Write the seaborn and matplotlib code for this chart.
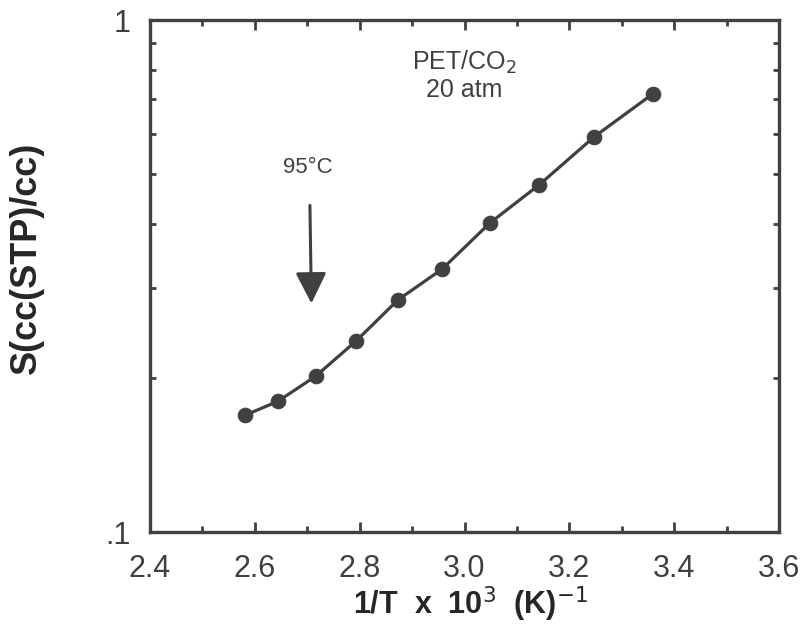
import matplotlib
matplotlib.use("Agg")
import matplotlib.pyplot as plt
from matplotlib.ticker import FixedLocator, FixedFormatter, LogLocator, MultipleLocator, NullFormatter
import numpy as np
import pandas as pd
import seaborn as sns

# CO2 solubility in PET at 20 atm versus reciprocal temperature
inv_T = [2.581, 2.644, 2.716, 2.793, 2.873, 2.957, 3.048, 3.143, 3.248, 3.359]
solubility = [0.169, 0.180, 0.2015, 0.236, 0.284, 0.326, 0.401, 0.477, 0.592, 0.717]

x_ticks = [2.4, 2.6, 2.8, 3.0, 3.2, 3.4, 3.6]
x_tick_labels = ["2.4", "2.6", "2.8", "3.0", "3.2", "3.4", "3.6"]
y_ticks = [0.1, 1.0]
y_tick_labels = [".1", "1"]

ink = "#404040"

sns.set_style("ticks")
plt.rcParams["font.family"] = ["Liberation Sans", "DejaVu Sans"]
plt.rcParams["text.color"] = ink
plt.rcParams["axes.edgecolor"] = ink
plt.rcParams["xtick.color"] = ink
plt.rcParams["ytick.color"] = ink

fig = plt.figure(figsize=(8.04, 6.27), dpi=100)
ax = fig.add_axes([150 / 804, 1 - 532 / 627, 629 / 804, 512 / 627])

df = pd.DataFrame({"invT": inv_T, "S": solubility})
sns.lineplot(data=df, x="invT", y="S", ax=ax, color=ink, linewidth=2.3,
             marker="o", markersize=10.5, markeredgecolor=ink, markerfacecolor=ink)

ax.set_yscale("log")
ax.set_xlim(2.4, 3.6)
ax.set_ylim(0.1, 1.0)

ax.xaxis.set_major_locator(FixedLocator(x_ticks))
ax.xaxis.set_major_formatter(FixedFormatter(x_tick_labels))
ax.xaxis.set_minor_locator(MultipleLocator(0.1))
ax.yaxis.set_major_locator(FixedLocator(y_ticks))
ax.yaxis.set_major_formatter(FixedFormatter(y_tick_labels))
ax.yaxis.set_minor_locator(LogLocator(base=10, subs=np.arange(2, 10)))
ax.yaxis.set_minor_formatter(NullFormatter())

for side in ax.spines.values():
    side.set_linewidth(2.4)
    side.set_color(ink)

ax.tick_params(axis="both", which="major", direction="in", length=7, width=2,
               top=True, right=True, labelsize=22)
ax.tick_params(axis="x", which="major", pad=16)
ax.tick_params(axis="y", which="major", pad=14)
ax.tick_params(axis="both", which="minor", direction="in", length=4, width=2,
               top=True, right=True)

# axis titles, placed in axes-fraction coordinates
ax.set_xlabel("1/T  x  10$^{3}$  (K)$^{-1}$", fontsize=22, fontweight="bold")
ax.xaxis.set_label_coords((470 - 150) / 629, -(584 - 532) / 512)
ax.set_ylabel("S(cc(STP)/cc)", fontsize=26, fontweight="bold")
ax.yaxis.set_label_coords(-(150 - 44) / 629, (532 - 258) / 512)

# system label
ax.text(3.0, 0.828, "PET/CO$_2$", ha="center", va="center", fontsize=18)
ax.text(3.0, 0.730, "20 atm", ha="center", va="center", fontsize=18)

# glass transition marker
ax.annotate("", xy=(2.708, 0.276), xytext=(2.705, 0.44),
            arrowprops=dict(arrowstyle="-|>,head_length=1.9,head_width=0.95",
                            color=ink, lw=2.2))
ax.text(2.701, 0.515, "95°C", ha="center", va="center", fontsize=16)

sns.despine(ax=ax, top=False, right=False)
fig.savefig("out.png", dpi=100)
